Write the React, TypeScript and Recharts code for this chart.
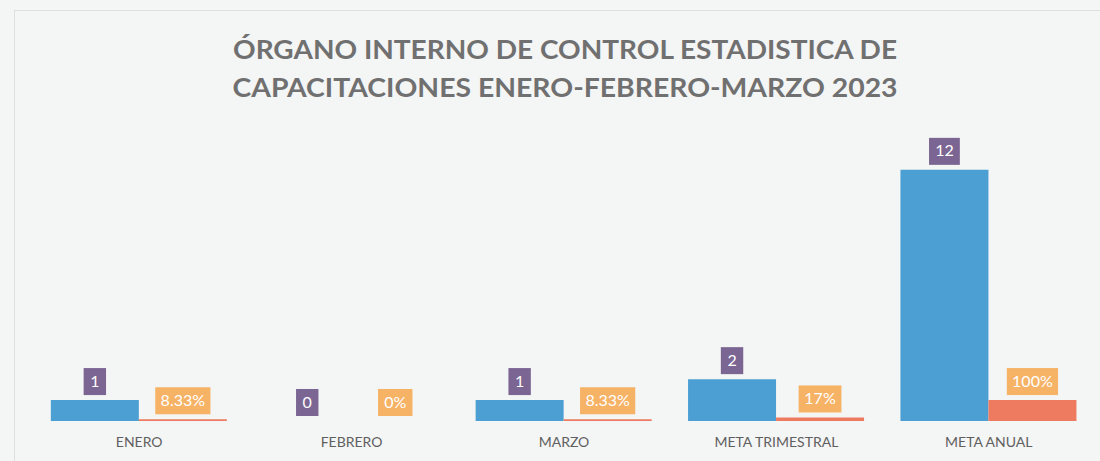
import React from "react";
import { BarChart, Bar, XAxis, YAxis, LabelList } from "recharts";

const categories = ["ENERO", "FEBRERO", "MARZO", "META TRIMESTRAL", "META ANUAL"];
const capacitaciones = [1, 0, 1, 2, 12];
const porcentajes = [0.0833, 0, 0.0833, 0.17, 1];
const porcentajeLabels = ["8.33%", "0%", "8.33%", "17%", "100%"];
const titleLines = [
  "ÓRGANO INTERNO DE CONTROL ESTADISTICA DE",
  "CAPACITACIONES  ENERO-FEBRERO-MARZO 2023",
];

const data = categories.map((c, i) => ({
  name: c,
  cap: capacitaciones[i],
  capLabel: String(capacitaciones[i]),
  pct: porcentajes[i],
  pctLabel: porcentajeLabels[i],
}));

const FONT = "Lato, 'Open Sans', sans-serif";

function textWidth(s: string): number {
  let w = 0;
  for (const ch of s) {
    if (ch === ".") w += 4;
    else if (ch === "%") w += 12;
    else w += 8.4;
  }
  return w;
}

const boxLabel = (fill: string) => (props: any) => {
  const { x, y, width, height, value } = props;
  const text = String(value);
  const w = textWidth(text) + 14;
  const h = 27;
  const cx = Number(x) + Number(width) / 2;
  const top = Math.min(Number(y), Number(y) + Number(height));
  const bottom = top - 5;
  return (
    <g>
      <rect x={cx - w / 2} y={bottom - h} width={w} height={h} fill={fill} />
      <text
        x={cx}
        y={bottom - h / 2 + 1}
        textAnchor="middle"
        dominantBaseline="middle"
        fill="#ffffff"
        fontSize={16}
        fontFamily={FONT}
      >
        {text}
      </text>
    </g>
  );
};

const CategoryTick = (props: any) => {
  const { x, y, payload } = props;
  return (
    <text
      x={x}
      y={y + 18}
      textAnchor="middle"
      fill="#5f5f5f"
      fontSize={14}
      fontFamily={FONT}
    >
      {payload.value}
    </text>
  );
};

const tinyForZero = (value: any) => (Number(value) === 0 ? 0.01 : 0);

export default function App() {
  return (
    <div style={{ position: "absolute", left: 0, top: 0, width: 1100, height: 461, background: "#f4f5f5", overflow: "hidden" }}>
      <div style={{ position: "absolute", left: 14, top: 10, width: 1100, height: 470, border: "1px solid #dedfdf", boxSizing: "border-box" }} />
      <BarChart
        width={1100}
        height={461}
        data={data}
        margin={{ top: 128, right: 5, bottom: 0, left: 33 }}
        barCategoryGap="8.4%"
        barGap={0}
      >
        <XAxis
          dataKey="name"
          axisLine={false}
          tickLine={false}
          height={40}
          interval={0}
          tick={<CategoryTick />}
        />
        <YAxis hide domain={[0, 14]} />
        <Bar dataKey="cap" fill="#4b9fd2" isAnimationActive={false} minPointSize={tinyForZero}>
          <LabelList dataKey="capLabel" content={boxLabel("#7b6592")} />
        </Bar>
        <Bar dataKey="pct" fill="#ee7b5f" isAnimationActive={false} minPointSize={tinyForZero}>
          <LabelList dataKey="pctLabel" content={boxLabel("#f6b265")} />
        </Bar>
      </BarChart>
      <svg width={1100} height={120} style={{ position: "absolute", left: 0, top: 0 }}>
        <text x={565} y={59} textAnchor="middle" fill="#707070" fontSize={26} fontWeight="bold" fontFamily={FONT} textLength={664} lengthAdjust="spacingAndGlyphs">
          {titleLines[0]}
        </text>
        <text x={565} y={97} textAnchor="middle" fill="#707070" fontSize={26} fontWeight="bold" fontFamily={FONT} textLength={665} lengthAdjust="spacingAndGlyphs">
          {titleLines[1]}
        </text>
      </svg>
    </div>
  );
}
